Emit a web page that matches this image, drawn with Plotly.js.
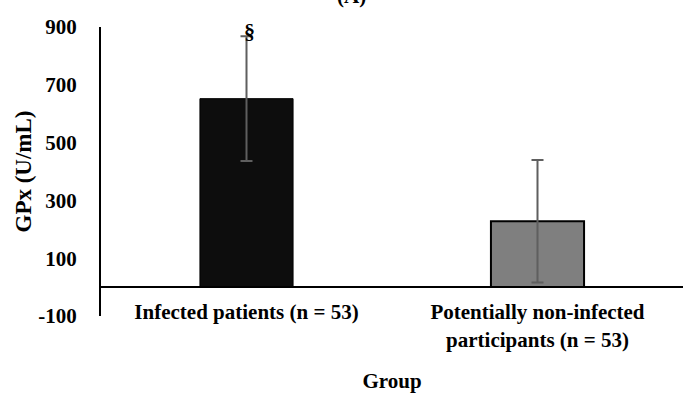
<!DOCTYPE html>
<html>
<head>
<meta charset="utf-8">
<script src="https://cdn.plot.ly/plotly-3.0.1.min.js"></script>
<style>
html,body{margin:0;padding:0;background:#fff;}
#chart{width:683px;height:397px;}
</style>
</head>
<body>
<div id="chart"></div>
<script>
const categories = ["Infected patients (n = 53)", "Potentially non-infected<br>participants (n = 53)"];
const gpxMeans = [652, 228];
const gpxErrors = [216, 212];
const barColors = ["#0d0d0d", "#7f7f7f"];
const yTickVals = [-100, 100, 300, 500, 700, 900];
const significance = ["§", ""];
const panelLabel = "(A)";

const FONT = "'Liberation Serif', 'Times New Roman', serif";

const trace = {
  type: "bar",
  x: categories,
  y: gpxMeans,
  marker: { color: barColors, line: { color: "#000000", width: [1, 2] } },
  error_y: { type: "data", array: gpxErrors, visible: true, color: "#5f5f5f", thickness: 2, width: 6 },
  hoverinfo: "none"
};

const annotations = categories.map((c, i) => ({
  x: c, y: gpxMeans[i] + gpxErrors[i], xref: "x", yref: "y",
  text: significance[i] ? "<b>" + significance[i] + "</b>" : "",
  showarrow: false, xanchor: "center", yanchor: "middle", yshift: 5, xshift: 3,
  font: { family: FONT, size: 22, color: "#000" }
})).filter(a => a.text);

// panel label, partly cut off at the top edge as in the reference
annotations.push({
  x: 0.431, y: 1.107, xref: "paper", yref: "paper",
  text: "<b>" + panelLabel + "</b>", showarrow: false,
  xanchor: "center", yanchor: "middle",
  font: { family: FONT, size: 21, color: "#000" }
});

const layout = {
  width: 683, height: 397,
  margin: { l: 101, r: 0, t: 27, b: 81, pad: 0 },
  paper_bgcolor: "#ffffff", plot_bgcolor: "#ffffff",
  showlegend: false,
  bargap: 0.68,
  font: { family: FONT, color: "#000" },
  xaxis: {
    type: "category",
    anchor: "free", position: 0.1,
    showline: true, linecolor: "#000", linewidth: 2,
    showgrid: false, zeroline: false, ticks: "",
    ticklabelstandoff: 6,
    tickfont: { family: FONT, size: 21, color: "#000", weight: "bold" },
    title: { text: "<b>Group</b>", font: { family: FONT, size: 21, color: "#000" }, standoff: 22 },
    automargin: false
  },
  yaxis: {
    range: [-100, 900],
    tickvals: yTickVals,
    ticktext: yTickVals.map(String),
    showline: true, linecolor: "#000", linewidth: 2,
    showgrid: false, zeroline: false, ticks: "",
    ticklabelstandoff: 18,
    tickfont: { family: FONT, size: 21, color: "#000", weight: "bold" },
    title: { text: "<b>GPx (U/mL)</b>", font: { family: FONT, size: 23, color: "#000" }, standoff: 0 },
    automargin: false
  },
  annotations: annotations
};

Plotly.newPlot("chart", [trace], layout, { staticPlot: true, displayModeBar: false });
</script>
</body>
</html>
